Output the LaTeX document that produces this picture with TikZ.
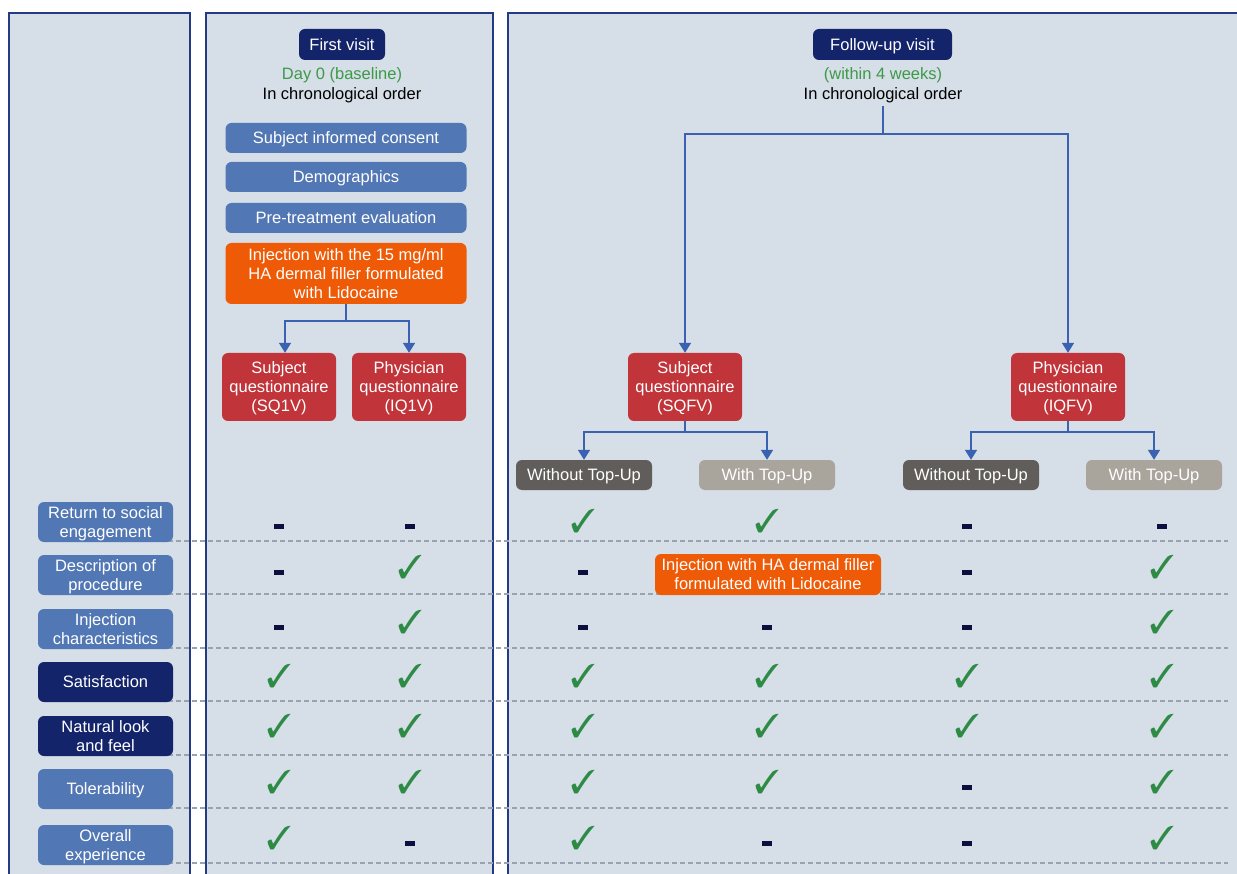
\documentclass[tikz,border=0pt]{standalone}
\usepackage{fontspec}
\setmainfont{Liberation Sans}
\usepackage{pifont}
\usetikzlibrary{arrows.meta}

\definecolor{panelbg}{HTML}{D6DEE7}
\definecolor{panelline}{HTML}{243A84}
\definecolor{visitnavy}{HTML}{14246A}
\definecolor{taskblue}{HTML}{5277B5}
\definecolor{qred}{HTML}{C0343A}
\definecolor{injorange}{HTML}{EE5A06}
\definecolor{darkgray}{HTML}{605D5A}
\definecolor{lightgray}{HTML}{A9A49C}
\definecolor{daygreen}{HTML}{3C9A48}
\definecolor{tickgreen}{HTML}{2E8B45}
\definecolor{linkblue}{HTML}{3A62B0}
\definecolor{sepgray}{HTML}{98A2B0}
\definecolor{nilnavy}{HTML}{0E0F3F}

\tikzset{
  every node/.style={font=\fontsize{16.5}{19}\selectfont},
  panel/.style={draw=panelline, fill=panelbg, line width=1.6pt},
  rowsep/.style={draw=sepgray, line width=1.8pt, dash pattern=on 4.5pt off 3.5pt},
  box/.style={rounded corners=6pt, text=white, align=center, inner sep=0pt, text depth=0pt},
  visitbox/.style={box, fill=visitnavy, minimum height=31pt},
  taskbox/.style={box, fill=taskblue, minimum width=241pt, minimum height=30pt},
  injbox/.style={box, fill=injorange},
  qbox/.style={box, fill=qred, minimum width=114pt, minimum height=68pt},
  topupdark/.style={box, fill=darkgray, minimum width=136pt, minimum height=30pt},
  topuplight/.style={box, fill=lightgray, minimum width=136pt, minimum height=30pt},
  rowlab/.style={box, fill=taskblue, minimum width=135pt, minimum height=40pt},
  rowlabdark/.style={rowlab, fill=visitnavy},
  plaintext/.style={inner sep=0pt, text depth=0pt},
  daytext/.style={plaintext, text=daygreen},
  link/.style={draw=linkblue, line width=1.6pt, -{Triangle[width=12pt,length=10pt]}},
  tickmark/.style={anchor=base, yshift=-6pt, inner sep=0pt, text=tickgreen,
    font=\fontsize{33}{33}\selectfont, node contents=\ding{51}},
  nilmark/.style={fill=nilnavy, inner sep=0pt, minimum width=10pt,
    minimum height=5pt, node contents={}}
}

\begin{document}
\begin{tikzpicture}[x=1pt,y=-1pt]
  \useasboundingbox (0,0) rectangle (1237,874);
  \clip (0,0) rectangle (1237,874);

  % the three columns
  \draw[panel] (9,13) rectangle (190,900);
  \draw[panel] (206,13) rectangle (493,900);
  \draw[panel] (508,13) rectangle (1260,900);

  % dotted row lines
  \foreach \y in {541,594,648,701,755,808,863}
    \draw[rowsep] (168,\y) -- (1228,\y);

  % first visit
  \node[visitbox, minimum width=86pt] (first) at (342,44.5) {First visit};
  \node[daytext] (day0) at (342,74) {Day 0 (baseline)};
  \node[plaintext] (order1) at (342,94) {In chronological order};
  \node[taskbox] (consent) at (346,138) {Subject informed consent};
  \node[taskbox] (demo) at (346,177) {Demographics};
  \node[taskbox] (pretreat) at (346,218) {Pre-treatment evaluation};
  \node[injbox, minimum width=241pt, minimum height=61pt] (inj) at (346,273.5)
    {Injection with the 15 mg/ml\\HA dermal filler formulated\\with Lidocaine};
  \node[qbox] (sq1v) at (279,387) {Subject\\questionnaire\\(SQ1V)};
  \node[qbox] (iq1v) at (409,387) {Physician\\questionnaire\\(IQ1V)};

  % follow-up visit
  \node[visitbox, minimum width=139pt] (follow) at (882.5,44.5) {Follow-up visit};
  \node[daytext] (weeks) at (883,74) {(within 4 weeks)};
  \node[plaintext] (order2) at (883,94) {In chronological order};
  \node[qbox] (sqfv) at (685,387) {Subject\\questionnaire\\(SQFV)};
  \node[qbox] (iqfv) at (1068,387) {Physician\\questionnaire\\(IQFV)};
  \node[topupdark] (wo1) at (584,475) {Without Top-Up};
  \node[topuplight] (w1) at (767,475) {With Top-Up};
  \node[topupdark] (wo2) at (971,475) {Without Top-Up};
  \node[topuplight] (w2) at (1154,475) {With Top-Up};

  % arrows
  \coordinate (fork1) at ([yshift=-17pt]inj.south);
  \coordinate (fork2) at (883,134);
  \coordinate (fork3) at ([yshift=-11pt]sqfv.south);
  \coordinate (fork4) at ([yshift=-11pt]iqfv.south);
  \draw[link] (inj.south) -- (fork1) -| ([xshift=6pt]sq1v.north);
  \draw[link] (fork1) -| (iq1v.north);
  \draw[link] ([yshift=-6pt]order2.south) -- (fork2) -| (sqfv.north);
  \draw[link] (fork2) -| (iqfv.north);
  \draw[link] (sqfv.south) -- (fork3) -| (wo1.north);
  \draw[link] (fork3) -| (w1.north);
  \draw[link] (iqfv.south) -- (fork4) -| (wo2.north);
  \draw[link] (fork4) -| (w2.north);

  % row labels
  \node[rowlab] (social) at (105.5,522) {Return to social\\engagement};
  \node[rowlab] (descr) at (105.5,575) {Description of\\procedure};
  \node[rowlab] (injchar) at (105.5,629) {Injection\\characteristics};
  \node[rowlabdark] (satis) at (105.5,682) {Satisfaction};
  \node[rowlabdark] (natural) at (105.5,736) {Natural look\\and feel};
  \node[rowlab] (toler) at (105.5,789) {Tolerability};
  \node[rowlab] (overall) at (105.5,845) {Overall\\experience};

  % ticks and dashes
  \foreach \x/\s in {279/nilmark,410/nilmark,583/tickmark,767/tickmark,967/nilmark,1162/nilmark}
    \node (social-\x) at (\x,526) [\s];
  \foreach \x/\s in {279/nilmark,410/tickmark,583/nilmark,967/nilmark,1162/tickmark}
    \node (descr-\x) at (\x,572) [\s];
  \node[injbox, minimum width=226pt, minimum height=41pt] (inj2) at (768,574.5)
    {Injection with HA dermal filler\\formulated with Lidocaine};
  \foreach \x/\s in {279/nilmark,410/tickmark,583/nilmark,767/nilmark,967/nilmark,1162/tickmark}
    \node (injchar-\x) at (\x,627) [\s];
  \foreach \x/\s in {279/tickmark,410/tickmark,583/tickmark,767/tickmark,967/tickmark,1162/tickmark}
    \node (satis-\x) at (\x,681) [\s];
  \foreach \x/\s in {279/tickmark,410/tickmark,583/tickmark,767/tickmark,967/tickmark,1162/tickmark}
    \node (natural-\x) at (\x,731) [\s];
  \foreach \x/\s in {279/tickmark,410/tickmark,583/tickmark,767/tickmark,967/nilmark,1162/tickmark}
    \node (toler-\x) at (\x,787) [\s];
  \foreach \x/\s in {279/tickmark,410/nilmark,583/tickmark,767/nilmark,967/nilmark,1162/tickmark}
    \node (overall-\x) at (\x,843) [\s];

\end{tikzpicture}
\end{document}
